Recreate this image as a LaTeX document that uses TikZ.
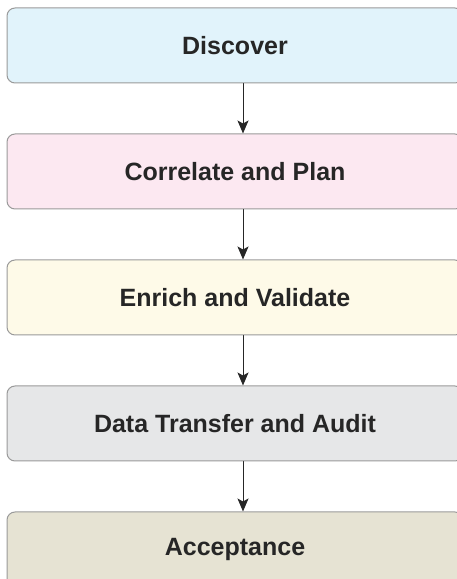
\documentclass[tikz,border=0pt]{standalone}
\usepackage{fontspec}
\setmainfont{Liberation Sans}
\usetikzlibrary{arrows.meta,positioning}

\definecolor{discoverfill}{HTML}{E1F3FB}
\definecolor{correlatefill}{HTML}{FCE8F1}
\definecolor{enrichfill}{HTML}{FEFAE8}
\definecolor{transferfill}{HTML}{E6E7E8}
\definecolor{acceptfill}{HTML}{E6E3D3}
\definecolor{boxline}{HTML}{9A9A9A}

\tikzset{
	stage/.style={draw=boxline, line width=1pt, rounded corners=8pt,
		minimum width=456pt, minimum height=75pt, inner sep=0pt,
		font=\fontsize{25}{30}\selectfont\bfseries, text=black!85},
	flow/.style={-{Stealth[length=13pt,width=11pt,inset=3pt]}, line width=1pt, black!85}
}

\begin{document}
\begin{tikzpicture}[x=1pt,y=1pt,line cap=round,line join=round]
			\useasboundingbox (0,0) rectangle (456,579);
			
			\node [stage, fill=discoverfill] (discover) at (235,533.5) {Discover};
			\node [stage, fill=correlatefill, below=50pt of discover] (correlate) {Correlate and Plan};
			\node [stage, fill=enrichfill, below=50pt of correlate] (enrich) {Enrich and Validate};
			\node [stage, fill=transferfill, below=50pt of enrich] (transfer) {Data Transfer and Audit};
			\node [stage, fill=acceptfill, below=50pt of transfer] (accept) {Acceptance};
			
			\foreach \a/\b in {discover/correlate, correlate/enrich, enrich/transfer, transfer/accept}{
				\draw [flow] ([xshift=8pt]\a.south) -- ([xshift=8pt]\b.north);}
		\end{tikzpicture}
\end{document}
